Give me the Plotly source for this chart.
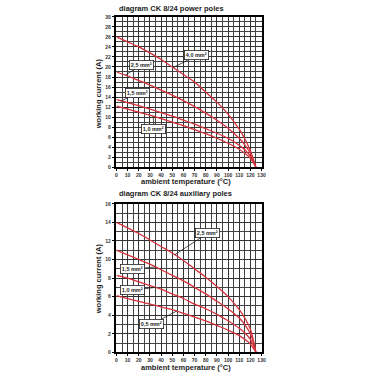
import plotly.graph_objects as go

# ---- data: power poles (top) ----
temp_top = [0, 10, 20, 30, 40, 50, 60, 70, 80, 90, 100, 110, 115, 120, 125]
top_40 = [26.0, 25.0, 24.0, 22.8, 21.5, 20.0, 18.5, 17.0, 15.0, 13.0, 10.6, 7.6, 5.7, 3.3, 0]
top_25 = [19.0, 18.2, 17.3, 16.4, 15.4, 14.4, 13.3, 12.1, 10.8, 9.4, 7.8, 5.8, 4.5, 2.8, 0]
top_15 = [13.5, 12.9, 12.3, 11.6, 10.9, 10.2, 9.4, 8.6, 7.7, 6.8, 5.8, 4.4, 3.5, 2.2, 0]
top_10 = [12.2, 11.6, 11.0, 10.4, 9.7, 9.0, 8.3, 7.5, 6.7, 5.8, 4.8, 3.6, 2.8, 1.8, 0]
top_names = ["4,0 mm²", "2,5 mm²", "1,5 mm²", "1,0 mm²"]

# ---- data: auxiliary poles (bottom) ----
temp_bot = [0, 10, 20, 30, 40, 50, 60, 70, 80, 90, 100, 110, 115, 120, 125]
bot_25 = [14.0, 13.4, 12.8, 12.1, 11.4, 10.7, 9.9, 9.0, 8.1, 7.1, 6.0, 4.6, 3.7, 2.5, 0]
bot_15 = [11.0, 10.5, 10.0, 9.5, 8.9, 8.3, 7.7, 7.0, 6.3, 5.5, 4.7, 3.7, 3.0, 2.0, 0]
bot_10 = [8.3, 8.0, 7.6, 7.2, 6.8, 6.3, 5.8, 5.2, 4.7, 4.1, 3.4, 2.6, 2.1, 1.4, 0]
bot_05 = [6.1, 5.8, 5.5, 5.2, 4.9, 4.6, 4.2, 3.8, 3.4, 2.9, 2.4, 1.8, 1.4, 0.9, 0]
bot_names = ["2,5 mm²", "1,5 mm²", "1,0 mm²", "0,5 mm²"]

# label boxes: (curve point x, y, box centre x, y)
top_labels = [(51, 19.9, 72, 22.3), (8, 18.4, 22, 20.3), (4, 13.2, 19, 14.8), (33, 10.2, 33.5, 7.6)]
bot_labels = [(52, 10.5, 82, 12.85), (35, 9.2, 14.5, 8.96), (35, 7.0, 14, 6.7), (54, 4.45, 31.5, 3.05)]

titles = ["diagram CK 8/24 power poles", "diagram CK 8/24 auxiliary poles"]
x_title = "ambient temperature (°C)"
y_title = "working current (A)"

RED = "#d8323c"
FONT = "Liberation Sans"

fig = go.Figure()
for ys in [top_40, top_25, top_15, top_10]:
    fig.add_trace(go.Scatter(x=temp_top, y=ys, mode="lines", line=dict(color=RED, width=1.3, shape="spline"),
                             xaxis="x", yaxis="y", showlegend=False, hoverinfo="skip"))
for ys in [bot_25, bot_15, bot_10, bot_05]:
    fig.add_trace(go.Scatter(x=temp_bot, y=ys, mode="lines", line=dict(color=RED, width=1.3, shape="spline"),
                             xaxis="x2", yaxis="y2", showlegend=False, hoverinfo="skip"))

def xax(domain, anchor):
    return dict(domain=domain, anchor=anchor, range=[0, 130], dtick=10, tick0=0,
                showgrid=True, gridcolor="#333", gridwidth=1,
                minor=dict(dtick=5, showgrid=True, gridcolor="#444", gridwidth=1),
                showline=True, linecolor="black", linewidth=1.5, mirror=True,
                ticks="outside", ticklen=2, tickcolor="black", tickangle=0,
                tickfont=dict(family=FONT, size=5, color="#333", weight="bold"), zeroline=False)

def yax(domain, anchor, top):
    return dict(domain=domain, anchor=anchor, range=[0, top], dtick=2, tick0=0,
                showgrid=True, gridcolor="#333", gridwidth=1,
                minor=dict(dtick=1, showgrid=True, gridcolor="#444", gridwidth=1),
                showline=True, linecolor="black", linewidth=1.5, mirror=True,
                ticks="outside", ticklen=3, tickcolor="black",
                tickfont=dict(family=FONT, size=5, color="#333", weight="bold"), zeroline=False)

xd = [117 / 380, 264 / 380]
fig.update_layout(
    width=380, height=380, autosize=False,
    margin=dict(l=0, r=0, t=0, b=0),
    paper_bgcolor="white", plot_bgcolor="white",
    xaxis=xax(xd, "y"), yaxis=yax([1 - 167 / 380, 1 - 14 / 380], "x", 30),
    xaxis2=xax(xd, "y2"), yaxis2=yax([1 - 355 / 380, 1 - 204 / 380], "x2", 16),
)

anns = []
for (px, py, bx, by), name in zip(top_labels, top_names):
    anns.append(dict(x=px, y=py, ax=bx, ay=by, xref="x", yref="y", axref="x", ayref="y",
                     text=name, showarrow=True, arrowhead=0, arrowwidth=0.8, arrowcolor="#222",
                     bgcolor="white", bordercolor="#222", borderwidth=0.8, borderpad=1,
                     font=dict(family=FONT, size=5.5, color="#222", weight="bold")))
for (px, py, bx, by), name in zip(bot_labels, bot_names):
    anns.append(dict(x=px, y=py, ax=bx, ay=by, xref="x2", yref="y2", axref="x2", ayref="y2",
                     text=name, showarrow=True, arrowhead=0, arrowwidth=0.8, arrowcolor="#222",
                     bgcolor="white", bordercolor="#222", borderwidth=0.8, borderpad=1,
                     font=dict(family=FONT, size=5.5, color="#222", weight="bold")))

# titles
for t, ypx in zip(titles, [6, 194]):
    anns.append(dict(x=118 / 380, y=1 - ypx / 380, xref="paper", yref="paper", text=t, showarrow=False,
                     xanchor="left", yanchor="middle", font=dict(family=FONT, size=7.5, color="#222", weight="bold")))
for ypx in [181, 370]:
    anns.append(dict(x=187 / 380, y=1 - ypx / 380, xref="paper", yref="paper", text=x_title, showarrow=False,
                     xanchor="center", yanchor="middle", font=dict(family=FONT, size=7.5, color="#222", weight="bold")))
for ypx in [92, 280]:
    anns.append(dict(x=99 / 380, y=1 - ypx / 380, xref="paper", yref="paper", text=y_title, showarrow=False,
                     textangle=-90, xanchor="center", yanchor="middle",
                     font=dict(family=FONT, size=7.5, color="#222", weight="bold")))
fig.update_layout(annotations=anns)

fig.write_html("out.html", config={"displayModeBar": False},
               post_script="document.body.style.margin='0';")
